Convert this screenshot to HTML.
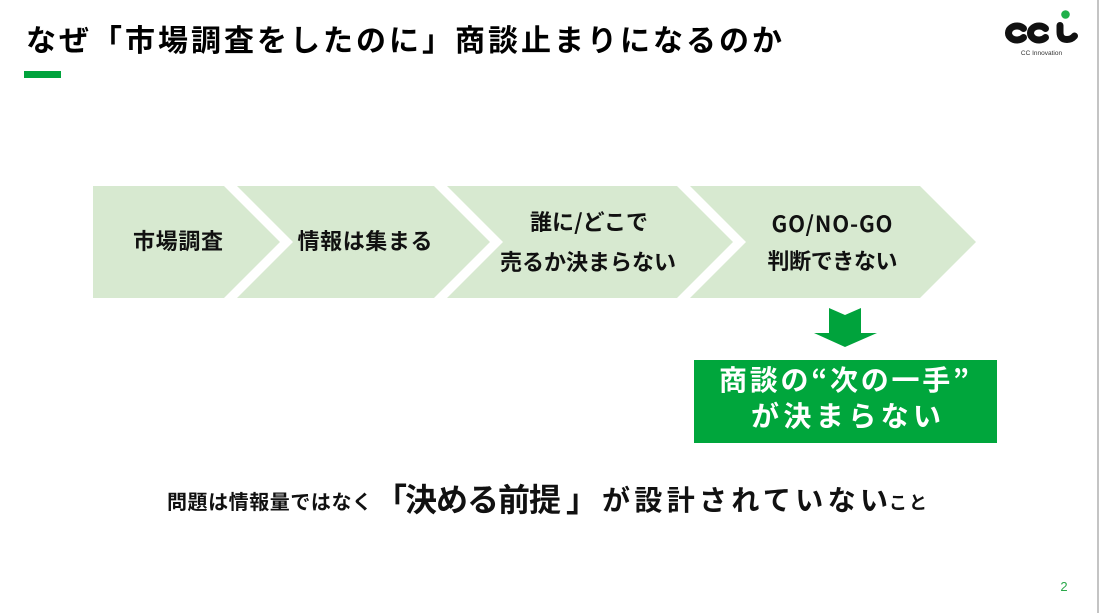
<!DOCTYPE html>
<html>
<head>
<meta charset="utf-8">
<style>
  html,body{margin:0;padding:0;background:#fff;}
  body{width:1099px;height:613px;overflow:hidden;}
  svg{display:block;}
  text{font-family:"Liberation Sans","Noto Sans CJK JP",sans-serif;}
  .jp{font-family:"Noto Sans CJK JP","Liberation Sans",sans-serif;}
</style>
</head>
<body>
<svg width="1099" height="613" viewBox="0 0 1099 613" xmlns="http://www.w3.org/2000/svg">
  <rect x="0" y="0" width="1099" height="613" fill="#ffffff"/>
  <rect x="1097" y="0" width="2" height="613" fill="#c4c4c4"/>

  <!-- Title -->
  <text class="jp" x="26" y="51" font-size="30" font-weight="700" fill="#000" textLength="756" lengthAdjust="spacing">なぜ「市場調査をしたのに」商談止まりになるのか</text>
  <rect x="24" y="71" width="37" height="7" fill="#00a33c"/>

  <!-- Logo -->
  <g fill="none" stroke="#111" stroke-width="7" stroke-linecap="round">
    <path d="M1023.5 28.5 A8.5 7 0 1 0 1023.5 37.5"/>
    <path d="M1045.5 28.5 A8.5 7 0 1 0 1045.5 37.5"/>
    <path d="M1060 25.5 L1060 32 Q1060 39.5 1067 39.5 Q1071.5 39.5 1074.5 36"/>
  </g>
  <circle cx="1065.5" cy="14.5" r="4.3" fill="#1fb04a"/>
  <text x="1041.5" y="55" font-size="6.5" fill="#333" text-anchor="middle">CC Innovation</text>

  <!-- Chevrons -->
  <g fill="#d7e9d0">
    <polygon points="93,186 224,186 280,242 224,298 93,298"/>
    <polygon points="237,186 434,186 490,242 434,298 237,298 293,242"/>
    <polygon points="447,186 677,186 733,242 677,298 447,298 503,242"/>
    <polygon points="690,186 920,186 976,242 920,298 690,298 746,242"/>
  </g>
  <g font-weight="700" fill="#111" text-anchor="middle">
    <text class="jp" x="178" y="249" font-size="22" textLength="90" lengthAdjust="spacing">市場調査</text>
    <text class="jp" x="365" y="249" font-size="22" textLength="135" lengthAdjust="spacing">情報は集まる</text>
    <text class="jp" x="589" y="230" font-size="22" textLength="118" lengthAdjust="spacing">誰に/どこで</text>
    <text class="jp" x="588" y="270" font-size="22" textLength="176" lengthAdjust="spacing">売るか決まらない</text>
    <text class="jp" x="832" y="232" font-size="22" textLength="121" lengthAdjust="spacing">GO/NO-GO</text>
    <text class="jp" x="832.5" y="269" font-size="22" textLength="130" lengthAdjust="spacing">判断できない</text>
  </g>

  <!-- Down arrow -->
  <polygon points="829,308 845,315 861,308 861,333 877,333 845,347 814,333 829,333" fill="#00a33c"/>

  <!-- Green box -->
  <rect x="694" y="360" width="303" height="83" fill="#00a63c"/>
  <text class="jp" x="844" y="390" font-size="28" font-weight="700" fill="#fff" text-anchor="middle" textLength="250" lengthAdjust="spacing">商談の“次の一手”</text>
  <text class="jp" x="846" y="426" font-size="28" font-weight="700" fill="#fff" text-anchor="middle" textLength="190" lengthAdjust="spacing">が決まらない</text>

  <!-- Bottom statement -->
  <g font-weight="700" fill="#111">
    <text class="jp" x="167" y="509" font-size="20" textLength="205" lengthAdjust="spacing">問題は情報量ではなく</text>
    <text class="jp" x="375" y="511" font-size="32">「</text>
    <text class="jp" x="405" y="511" font-size="32" textLength="156" lengthAdjust="spacing">決める前提</text>
    <text class="jp" x="566" y="511" font-size="32">」</text>
    <text class="jp" x="602" y="510" font-size="28" textLength="286" lengthAdjust="spacing">が設計されていない</text>
    <text class="jp" x="889" y="509" font-size="18" textLength="38" lengthAdjust="spacing">こと</text>
  </g>

  <!-- Page number -->
  <text x="1064" y="591" font-size="13" fill="#2aa84a" text-anchor="middle">2</text>
</svg>
</body>
</html>
